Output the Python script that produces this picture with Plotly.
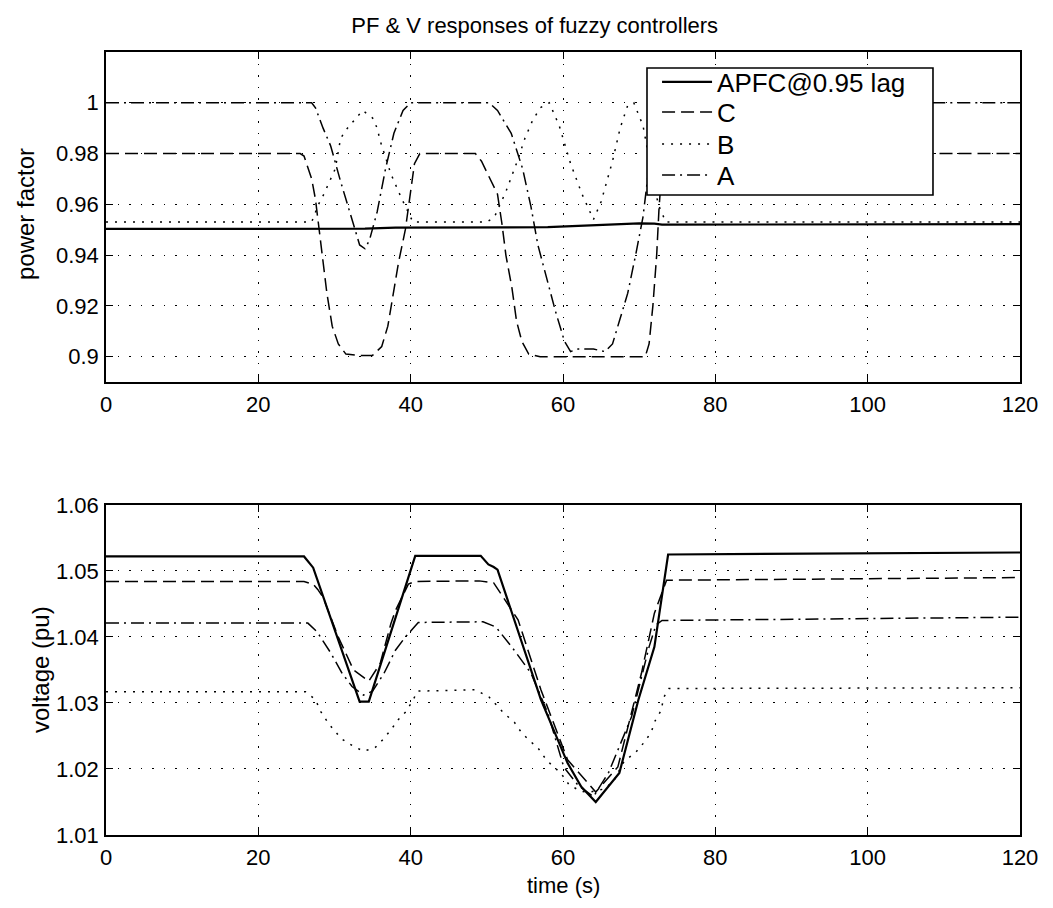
import plotly.graph_objects as go

# ---- power factor (top panel) ----
t_pf_apfc = [0, 30, 34, 38, 55, 58, 62, 66, 70, 72, 73, 120]
pf_apfc = [0.9503, 0.9503, 0.9504, 0.9508, 0.9508, 0.951, 0.9515, 0.952, 0.9525, 0.9524, 0.952, 0.9522]

t_pf_c = [0, 25.5, 26, 27, 27.5, 28, 28.5, 29, 29.7, 30.5, 31.5, 33, 35, 36.2, 37, 37.6, 38.4,
          39.3, 40, 40.5, 41.2, 48.5, 49.3, 50.1, 51.4, 52, 52.5, 53.3, 53.9, 54.6, 55.5, 57,
          70.8, 71.3, 71.8, 72.3, 72.6, 73, 73.5, 120]
pf_c = [0.98, 0.98, 0.979, 0.97, 0.962, 0.95, 0.938, 0.925, 0.912, 0.905, 0.901, 0.9005, 0.9005,
        0.904, 0.912, 0.923, 0.937, 0.95, 0.965, 0.976, 0.98, 0.98, 0.977, 0.972, 0.964, 0.952,
        0.94, 0.927, 0.914, 0.906, 0.901, 0.9, 0.9, 0.905, 0.92, 0.94, 0.958, 0.975, 0.98, 0.98]

t_pf_b = [0, 27, 27.9, 28.6, 30.1, 30.8, 31.7, 33.7, 35, 35.6, 36, 37.4, 38.7, 39.8, 40.3, 50,
          51, 52.5, 54, 55, 56, 57, 58.2, 59.5, 61, 62.5, 64, 65, 66.5, 67.5, 68.5, 69.3, 70.5,
          71.5, 72.5, 73.5, 120]
pf_b = [0.953, 0.953, 0.96, 0.964, 0.974, 0.986, 0.99, 0.997, 0.994, 0.99, 0.985, 0.972, 0.963,
        0.956, 0.953, 0.953, 0.955, 0.965, 0.977, 0.986, 0.993, 0.998, 1.0, 0.991, 0.976, 0.964,
        0.954, 0.961, 0.977, 0.99, 0.999, 1.0, 0.991, 0.975, 0.96, 0.953, 0.953]

t_pf_a = [0, 27, 27.5, 28.5, 29.5, 30.8, 32.4, 33.3, 34, 34.6, 35.6, 36.7, 37.8, 39, 40, 50.3,
          51.4, 52.2, 53.2, 54.7, 55.8, 56.7, 57.8, 59, 60.2, 61, 62, 64, 65.5, 66.5, 67.5, 68.5,
          69.6, 70.5, 71.3, 72, 72.8, 120]
pf_a = [1.0, 1.0, 0.998, 0.99, 0.983, 0.969, 0.953, 0.944, 0.9425, 0.946, 0.957, 0.974, 0.988,
        0.997, 1.0, 1.0, 0.997, 0.993, 0.988, 0.974, 0.959, 0.944, 0.931, 0.918, 0.906, 0.902,
        0.903, 0.903, 0.902, 0.905, 0.915, 0.925, 0.941, 0.955, 0.975, 0.992, 1.0, 1.0]

# ---- voltage (bottom panel) ----
t_v_apfc = [0, 26, 27.2, 33.3, 34.5, 40.6, 49.2, 50.2, 50.9, 51.4, 57.1, 60.6, 62.4, 64.3, 67.4,
            69.9, 72, 73.2, 73.8, 120]
v_apfc = [1.0522, 1.0522, 1.0505, 1.0302, 1.0302, 1.0523, 1.0523, 1.051, 1.0506, 1.0502, 1.0305,
          1.0209, 1.0173, 1.015, 1.0194, 1.0305, 1.0385, 1.0482, 1.0525, 1.0528]

t_v_c = [0, 26, 27.2, 27.8, 28.5, 30.5, 32.5, 34.5, 36, 37.4, 38, 39.7, 40.5, 49, 50.9, 54.1,
         57.1, 60.6, 64.3, 67.2, 70.3, 72, 73.6, 120]
v_c = [1.0484, 1.0484, 1.048, 1.0472, 1.046, 1.04, 1.035, 1.0333, 1.036, 1.042, 1.044, 1.048,
       1.0484, 1.0485, 1.0482, 1.0426, 1.032, 1.0214, 1.0165, 1.0203, 1.0345, 1.0436, 1.0486, 1.049]

t_v_b = [0, 26.2, 27.5, 28.2, 29.1, 29.9, 31, 32.4, 33.8, 35.3, 36.3, 37.4, 38.3, 39.3, 40.2,
         40.9, 48.5, 50.3, 52.2, 53.6, 54.5, 55.5, 56.7, 57.8, 58.7, 59.7, 60.8, 62.4, 63.5,
         65.5, 66.7, 68, 69.6, 70.7, 71.6, 72, 72.9, 73.2, 73.9, 120]
v_b = [1.0317, 1.0317, 1.0305, 1.0287, 1.0271, 1.0259, 1.0245, 1.0235, 1.0227, 1.0232, 1.0244,
       1.0259, 1.0274, 1.0286, 1.0302, 1.0318, 1.032, 1.0309, 1.0285, 1.0271, 1.0256, 1.0244,
       1.0232, 1.0214, 1.0204, 1.0194, 1.0176, 1.0166, 1.0165, 1.017, 1.0183, 1.0211, 1.0226,
       1.0241, 1.0256, 1.0271, 1.0289, 1.0308, 1.0322, 1.0323]

t_v_a = [0, 26.5, 27.7, 29.5, 31, 32.3, 33.8, 35, 36.5, 38, 39.3, 40.2, 41, 49.5, 51.2, 53.6,
         55.8, 58, 60.1, 62, 64, 66, 69, 71.3, 72.2, 73, 120]
v_a = [1.0421, 1.0421, 1.0408, 1.0376, 1.0345, 1.0325, 1.0312, 1.0318, 1.0345, 1.038, 1.04,
       1.0411, 1.0422, 1.0423, 1.0415, 1.038, 1.0345, 1.0285, 1.0203, 1.0175, 1.0158, 1.0195,
       1.0279, 1.0385, 1.0418, 1.0425, 1.043]

names = ["APFC@0.95 lag", "C", "B", "A"]
styles = [("solid", 2.2), ("13px,6px", 1.5), ("2px,7px", 1.5), ("13px,5px,2px,5px", 1.5)]

pf_series = [(t_pf_apfc, pf_apfc), (t_pf_c, pf_c), (t_pf_b, pf_b), (t_pf_a, pf_a)]
v_series = [(t_v_apfc, v_apfc), (t_v_c, v_c), (t_v_b, v_b), (t_v_a, v_a)]

FONT = "Liberation Sans, Arial, sans-serif"
legend_ids = ["legend", "legend2", "legend3", "legend4"]
legend_y = [0.9617, 0.9234, 0.8825, 0.8429]

fig = go.Figure()
for name, lid, (dash, w), (t, y) in zip(names, legend_ids, styles, pf_series):
    fig.add_trace(go.Scatter(x=t, y=y, mode="lines", name=name, legend=lid,
                             line=dict(color="black", width=w, dash=dash),
                             xaxis="x", yaxis="y"))
for name, (dash, w), (t, y) in zip(names, styles, v_series):
    fig.add_trace(go.Scatter(x=t, y=y, mode="lines", name=name, showlegend=False,
                             line=dict(color="black", width=w, dash=dash),
                             xaxis="x2", yaxis="y2"))

axis_style = dict(showline=True, linecolor="black", linewidth=1.6, mirror="ticks",
                  ticks="inside", ticklen=7, tickcolor="black", tickwidth=1,
                  showgrid=True, gridcolor="black", gridwidth=1.3, griddash="1.5px,10px",
                  zeroline=False, tickfont=dict(family=FONT, size=22, color="black"))

layout_legends = {}
for lid, ly in zip(legend_ids, legend_y):
    layout_legends[lid] = dict(x=0.6029, y=ly, xanchor="left", yanchor="middle",
                               bgcolor="rgba(0,0,0,0)", borderwidth=0,
                               font=dict(size=26, family=FONT, color="black"),
                               itemwidth=50)

# page body has an 8px margin, so the figure is sized and offset to compensate
fig.update_layout(
    width=1045, height=900,
    margin=dict(l=98, r=33, t=44, b=73),
    paper_bgcolor="white", plot_bgcolor="white",
    font=dict(family=FONT, color="black"),
    title=dict(text="PF & V responses of fuzzy controllers", x=0.504, y=0.981,
               xanchor="center", yanchor="middle", font=dict(size=22)),
    xaxis=dict(axis_style, domain=[0, 1], range=[0, 120], dtick=20, anchor="y",
               ticklabelstandoff=2),
    yaxis=dict(axis_style, domain=[0.5785, 1], range=[0.89, 1.02], anchor="x",
               ticklabelstandoff=1,
               tickvals=[0.9, 0.92, 0.94, 0.96, 0.98, 1.0],
               ticktext=["0.9", "0.92", "0.94", "0.96", "0.98", "1"]),
    xaxis2=dict(axis_style, domain=[0, 1], range=[0, 120], dtick=20, anchor="y2",
                ticklabelstandoff=2),
    yaxis2=dict(axis_style, domain=[0, 0.4215], range=[1.01, 1.06], anchor="x2",
                ticklabelstandoff=1,
                tickvals=[1.01, 1.02, 1.03, 1.04, 1.05, 1.06],
                ticktext=["1.01", "1.02", "1.03", "1.04", "1.05", "1.06"]),
    shapes=[dict(type="rect", xref="paper", yref="paper", x0=0.5919, x1=0.9048,
                 y0=0.8174, y1=0.9796, fillcolor="white",
                 line=dict(color="black", width=1.6), layer="above")],
    annotations=[
        dict(text="power factor", x=-0.0886, y=0.7931, xref="paper", yref="paper",
             xanchor="center", yanchor="middle",
             textangle=-90, showarrow=False, font=dict(size=24)),
        dict(text="voltage (pu)", x=-0.0722, y=0.2107, xref="paper", yref="paper",
             xanchor="center", yanchor="middle",
             textangle=-90, showarrow=False, font=dict(size=24)),
        dict(text="time (s)", x=0.5, y=-0.0651, xref="paper", yref="paper",
             xanchor="center", yanchor="middle",
             showarrow=False, font=dict(size=22)),
    ],
    **layout_legends,
)

fig.write_html("out.html")
